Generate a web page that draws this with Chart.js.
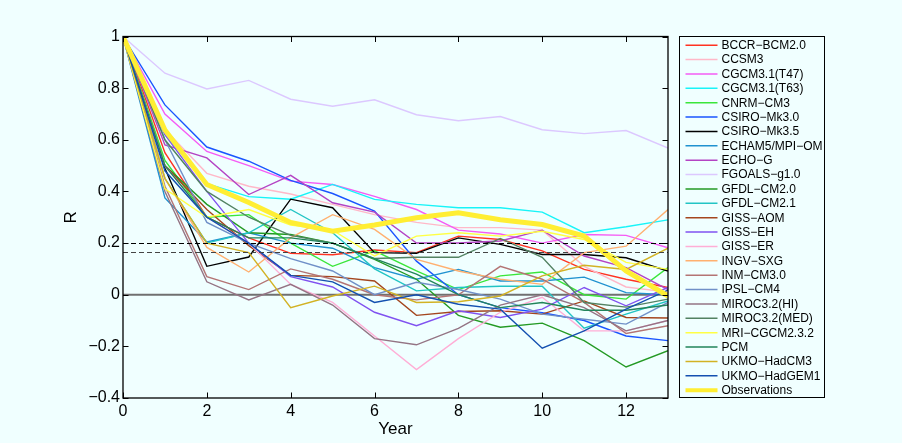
<!DOCTYPE html>
<html>
<head>
<meta charset="utf-8">
<script src="https://cdn.jsdelivr.net/npm/chart.js@4.4.1/dist/chart.umd.min.js"></script>
<style>
  html, body { margin: 0; padding: 0; background: #f0ffff; }
  canvas { display: block; }
</style>
</head>
<body>
<canvas id="c" width="902" height="443"></canvas>
<script>
// Lag (years) and autocorrelation R for each model and for the observations
const years = [0, 1, 2, 3, 4, 5, 6, 7, 8, 9, 10, 11, 12, 13];

const bccrBcm20   = [1, 0.55, 0.30, 0.22, 0.16, 0.155, 0.173, 0.163, 0.227, 0.214, 0.17, 0.098, 0.06, 0.028];
const ccsm3       = [1, 0.64, 0.47, 0.42, 0.39, 0.35, 0.31, 0.28, 0.26, 0.26, 0.25, 0.11, 0.03, 0.01];
const cgcmT47     = [1, 0.70, 0.555, 0.50, 0.44, 0.427, 0.381, 0.33, 0.25, 0.235, 0.20, 0.233, 0.23, 0.182];
const cgcmT63     = [1, 0.62, 0.43, 0.38, 0.37, 0.427, 0.369, 0.35, 0.337, 0.337, 0.32, 0.24, 0.263, 0.29];
const cnrmCm3     = [1, 0.52, 0.30, 0.31, 0.20, 0.11, 0.17, 0.092, 0.02, 0.073, 0.088, 0.0, -0.017, 0.105];
const csiroMk30   = [1, 0.735, 0.572, 0.517, 0.443, 0.392, 0.324, 0.13, 0.0, -0.05, -0.07, -0.10, -0.16, -0.178];
const csiroMk35   = [1, 0.49, 0.11, 0.146, 0.37, 0.337, 0.163, 0.16, 0.22, 0.195, 0.156, 0.156, 0.143, 0.092];
const echam5      = [1, 0.375, 0.204, 0.24, 0.20, 0.18, 0.105, 0.06, 0.098, 0.053, 0.053, 0.068, 0.008, 0.0];
const echoG       = [1, 0.58, 0.53, 0.388, 0.462, 0.356, 0.32, 0.20, 0.20, 0.208, 0.25, 0.15, 0.105, 0.02];
const fgoals      = [1, 0.858, 0.797, 0.83, 0.757, 0.73, 0.755, 0.697, 0.674, 0.69, 0.639, 0.624, 0.636, 0.568];
const gfdlCm20    = [1, 0.50, 0.35, 0.24, 0.233, 0.20, 0.137, 0.06, -0.08, -0.126, -0.11, -0.178, -0.28, -0.217];
const gfdlCm21    = [1, 0.45, 0.20, 0.24, 0.33, 0.24, 0.10, 0.015, 0.028, 0.033, 0.033, -0.13, -0.075, -0.024];
const gissAom     = [1, 0.50, 0.33, 0.19, 0.075, 0.07, 0.053, -0.08, -0.065, -0.062, -0.075, -0.024, -0.088, -0.09];
const gissEh      = [1, 0.62, 0.40, 0.20, 0.07, 0.03, -0.068, -0.12, -0.062, -0.088, -0.056, 0.028, -0.043, 0.028];
const gissEr      = [1, 0.50, 0.30, 0.20, 0.04, -0.03, -0.16, -0.29, -0.17, -0.068, -0.01, -0.14, -0.14, -0.10];
const ingvSxg     = [1, 0.45, 0.183, 0.088, 0.22, 0.31, 0.253, 0.137, 0.092, 0.06, 0.04, 0.163, 0.188, 0.33];
const inmCm30     = [1, 0.42, 0.07, 0.02, 0.10, 0.06, 0.0, -0.02, 0.0, 0.11, 0.06, -0.03, -0.15, -0.12];
const ipslCm4     = [1, 0.60, 0.28, 0.20, 0.14, 0.092, 0.0, 0.048, 0.02, -0.017, -0.075, -0.095, -0.114, -0.03];
const mirocHi     = [1, 0.40, 0.05, -0.02, 0.04, -0.04, -0.17, -0.194, -0.13, -0.04, 0.0, -0.05, -0.14, -0.10];
const mirocMed    = [1, 0.60, 0.40, 0.30, 0.23, 0.20, 0.14, 0.145, 0.145, 0.218, 0.145, -0.03, -0.048, -0.017];
const mriCgcm     = [1, 0.41, 0.30, 0.33, 0.27, 0.25, 0.15, 0.227, 0.24, 0.227, 0.246, 0.214, 0.125, 0.098];
const pcm         = [1, 0.50, 0.30, 0.22, 0.22, 0.20, 0.14, 0.08, 0.0, -0.05, -0.03, -0.06, -0.06, -0.04];
const ukmoHadCm3  = [1, 0.45, 0.20, 0.163, -0.05, -0.005, 0.033, -0.03, -0.027, -0.005, 0.073, 0.114, 0.098, 0.18];
const ukmoHadGem1 = [1, 0.48, 0.30, 0.20, 0.075, 0.05, -0.03, 0.0, -0.037, -0.056, -0.207, -0.14, -0.056, 0.018];
const observations = [1, 0.638, 0.427, 0.357, 0.28, 0.246, 0.27, 0.298, 0.317, 0.29, 0.272, 0.227, 0.092, -0.005];

const seriesNames = [
  'BCCR−BCM2.0', 'CCSM3', 'CGCM3.1(T47)', 'CGCM3.1(T63)', 'CNRM−CM3', 'CSIRO−Mk3.0',
  'CSIRO−Mk3.5', 'ECHAM5/MPI−OM', 'ECHO−G', 'FGOALS−g1.0', 'GFDL−CM2.0', 'GFDL−CM2.1',
  'GISS−AOM', 'GISS−EH', 'GISS−ER', 'INGV−SXG', 'INM−CM3.0', 'IPSL−CM4', 'MIROC3.2(HI)',
  'MIROC3.2(MED)', 'MRI−CGCM2.3.2', 'PCM', 'UKMO−HadCM3', 'UKMO−HadGEM1', 'Observations'
];
const seriesValues = [
  bccrBcm20, ccsm3, cgcmT47, cgcmT63, cnrmCm3, csiroMk30, csiroMk35, echam5, echoG, fgoals,
  gfdlCm20, gfdlCm21, gissAom, gissEh, gissEr, ingvSxg, inmCm30, ipslCm4, mirocHi, mirocMed,
  mriCgcm, pcm, ukmoHadCm3, ukmoHadGem1, observations
];

// Axis ticks and the two reference levels (dashed)
const xTicks = [0, 2, 4, 6, 8, 10, 12];
const yTicks = [-0.4, -0.2, 0, 0.2, 0.4, 0.6, 0.8, 1];
const yTickLabels = ['−0.4', '−0.2', '0', '0.2', '0.4', '0.6', '0.8', '1'];
const refLevels = [0.2, 0.167];
const zeroLevel = 0;

// Line styles
const lineColors = [
  '#ff3322', '#ffb8c8', '#f55cf5', '#18f4f8', '#3ae63a', '#1a55ff', '#000000', '#2092d0',
  '#b444c4', '#dcc8ff', '#249a24', '#22c4c4', '#a4461e', '#8052f0', '#ffaed6', '#ffb070',
  '#b47474', '#7090c8', '#947484', '#528262', '#ffff44', '#22845a', '#d2b224', '#1450b0',
  '#ffee33'
];
const BG = '#f0ffff';
const FONT = '"Liberation Sans", Arial, Helvetica, sans-serif';

const datasets = seriesValues.map((vals, i) => {
  const isObs = i === seriesValues.length - 1;
  return {
    label: seriesNames[i],
    data: years.map((x, k) => ({ x: x, y: vals[k] })),
    borderColor: lineColors[i],
    backgroundColor: lineColors[i],
    borderWidth: isObs ? 5 : 1.4,
    pointRadius: 0,
    tension: 0,
    fill: false,
    order: seriesValues.length - i
  };
});

const framePlugin = {
  id: 'frame',
  beforeDraw(chart) {
    const ctx = chart.ctx;
    ctx.save();
    ctx.fillStyle = BG;
    ctx.fillRect(0, 0, chart.width, chart.height);
    ctx.restore();
  },
  beforeDatasetsDraw(chart) {
    const { ctx, chartArea: a, scales } = chart;
    const y0 = scales.y.getPixelForValue(zeroLevel);
    ctx.save();
    ctx.strokeStyle = '#707070';
    ctx.lineWidth = 2;
    ctx.beginPath();
    ctx.moveTo(a.left, y0);
    ctx.lineTo(a.right, y0);
    ctx.stroke();
    ctx.restore();
  },
  afterDatasetsDraw(chart) {
    const { ctx, chartArea: a, scales } = chart;
    ctx.save();
    // dashed reference levels
    ctx.lineWidth = 1;
    ctx.setLineDash([5, 3]);
    refLevels.forEach((v, i) => {
      const y = Math.round(scales.y.getPixelForValue(v)) + 0.5;
      ctx.strokeStyle = i === 0 ? '#000000' : '#444444';
      ctx.beginPath();
      ctx.moveTo(a.left, y);
      ctx.lineTo(a.right, y);
      ctx.stroke();
    });
    ctx.setLineDash([]);
    // axes box
    ctx.strokeStyle = '#000000';
    ctx.lineWidth = 1.3;
    ctx.strokeRect(a.left, a.top, a.right - a.left, a.bottom - a.top);
    // inward tick marks on all four sides
    const tl = 5.5;
    ctx.lineWidth = 1;
    ctx.beginPath();
    scales.x.ticks.forEach(t => {
      const x = Math.round(scales.x.getPixelForValue(t.value)) + 0.5;
      ctx.moveTo(x, a.bottom); ctx.lineTo(x, a.bottom - tl);
      ctx.moveTo(x, a.top); ctx.lineTo(x, a.top + tl);
    });
    scales.y.ticks.forEach(t => {
      const y = Math.round(scales.y.getPixelForValue(t.value)) + 0.5;
      ctx.moveTo(a.left, y); ctx.lineTo(a.left + tl, y);
      ctx.moveTo(a.right, y); ctx.lineTo(a.right - tl, y);
    });
    ctx.stroke();
    ctx.restore();
  },
  afterDraw(chart) {
    // boxed legend to the right of the axes
    const ctx = chart.ctx;
    const a = chart.chartArea;
    const bx = a.right + 11.5, by = a.top, bw = 145, bh = 361;
    ctx.save();
    ctx.fillStyle = BG;
    ctx.fillRect(bx, by, bw, bh);
    ctx.strokeStyle = '#000000';
    ctx.lineWidth = 1;
    ctx.strokeRect(bx, by, bw, bh);
    ctx.font = '12px ' + FONT;
    ctx.textBaseline = 'middle';
    ctx.textAlign = 'left';
    const n = chart.data.datasets.length;
    const y0 = by + 8.7, step = 14.375;
    chart.data.datasets.forEach((ds, i) => {
      const y = y0 + i * step;
      ctx.strokeStyle = ds.borderColor;
      ctx.lineWidth = i === n - 1 ? 4 : 1.5;
      ctx.beginPath();
      ctx.moveTo(bx + 6, y);
      ctx.lineTo(bx + 38, y);
      ctx.stroke();
      ctx.fillStyle = '#000000';
      ctx.fillText(ds.label, bx + 42, y + 0.5);
    });
    ctx.restore();
  }
};

new Chart(document.getElementById('c'), {
  type: 'line',
  data: { datasets: datasets },
  options: {
    responsive: false,
    animation: false,
    devicePixelRatio: 1,
    layout: { padding: { left: 0, right: 234, top: 36.5, bottom: 0 } },
    plugins: { legend: { display: false }, tooltip: { enabled: false } },
    scales: {
      x: {
        type: 'linear',
        min: 0,
        max: 13,
        afterBuildTicks: s => { s.ticks = xTicks.map(v => ({ value: v })); },
        afterFit: s => { s.height = 45; },
        grid: { display: false, drawTicks: false },
        border: { display: false },
        ticks: { color: '#000', padding: 4, font: { family: FONT, size: 16 }, maxRotation: 0 },
        title: { display: true, text: 'Year', color: '#000', font: { family: FONT, size: 17 }, padding: { top: 0, bottom: 3.8 } }
      },
      y: {
        type: 'linear',
        min: -0.4,
        max: 1,
        afterBuildTicks: s => { s.ticks = yTicks.map(v => ({ value: v })); },
        afterFit: s => { s.width = 123; },
        grid: { display: false, drawTicks: false },
        border: { display: false },
        ticks: {
          color: '#000', padding: 3, font: { family: FONT, size: 16 },
          callback: (v, i) => yTickLabels[i]
        },
        title: { display: true, text: 'R', color: '#000', font: { family: FONT, size: 17 }, padding: { top: 60.8, bottom: 0 } }
      }
    }
  },
  plugins: [framePlugin]
});
</script>
</body>
</html>
